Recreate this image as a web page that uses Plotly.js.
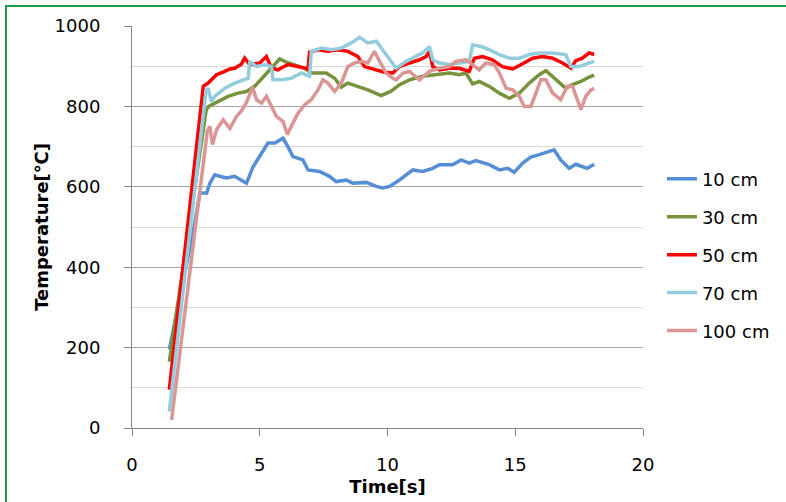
<!DOCTYPE html>
<html>
<head>
<meta charset="utf-8">
<script src="https://cdn.plot.ly/plotly-3.0.1.min.js"></script>
<style>
  html, body { margin: 0; padding: 0; background: #fff; }
  #wrap { position: relative; width: 786px; height: 502px; overflow: hidden; }
  #chart { width: 786px; height: 502px; }
  #frame { position: absolute; left: 5px; top: 5px; width: 800px; height: 520px;
           border-left: 2px solid #1f9b48; border-top: 2px solid #1f9b48; pointer-events: none; }
</style>
</head>
<body>
<div id="wrap"><div id="chart"></div><div id="frame"></div></div>
<script>
// ---- data (time in s, temperature in ℃) ----
const seriesNames = ["10 cm", "30 cm", "50 cm", "70 cm", "100 cm"];

const t10 = [1.46, 2.4, 2.66, 2.92, 3.05, 3.24, 3.5, 3.7, 4.02, 4.25, 4.48, 4.74, 5.0, 5.32, 5.59, 5.91, 6.1, 6.3, 6.69, 6.89, 7.34, 7.73, 7.99, 8.39, 8.64, 9.17, 9.56, 9.82, 10.08, 10.47, 10.99, 11.38, 11.77, 12.03, 12.55, 12.88, 13.2, 13.46, 13.98, 14.38, 14.7, 14.96, 15.29, 15.61, 15.94, 16.2, 16.52, 16.78, 17.11, 17.37, 17.82, 18.09];
const v10 = [195, 490, 585, 584, 609, 630, 625, 622, 626, 618, 609, 650, 675, 709, 709, 721, 700, 675, 667, 642, 638, 626, 613, 617, 609, 611, 601, 597, 601, 617, 642, 638, 646, 655, 655, 667, 659, 665, 655, 642, 646, 636, 659, 674, 680, 686, 692, 667, 646, 656, 646, 656];

const t30 = [1.46, 2.9, 3.0, 3.37, 3.76, 4.15, 4.48, 4.8, 5.2, 5.52, 5.78, 6.04, 6.37, 6.76, 7.02, 7.34, 7.6, 7.93, 8.19, 8.45, 8.84, 9.23, 9.75, 10.14, 10.47, 10.86, 11.38, 11.9, 12.42, 12.81, 13.07, 13.33, 13.59, 13.98, 14.38, 14.77, 15.16, 15.55, 15.94, 16.2, 16.59, 16.98, 17.24, 17.57, 17.89, 18.09];
const v30 = [165, 790, 800, 812, 825, 833, 837, 850, 879, 899, 918, 910, 904, 895, 883, 883, 883, 870, 848, 858, 850, 841, 827, 838, 854, 866, 875, 879, 883, 879, 883, 856, 862, 850, 833, 820, 833, 858, 879, 889, 866, 845, 854, 862, 873, 878];

const t50 = [1.46, 2.79, 2.98, 3.24, 3.31, 3.63, 3.83, 4.02, 4.28, 4.41, 4.61, 5.0, 5.26, 5.46, 5.72, 5.91, 6.11, 6.5, 6.89, 6.95, 7.28, 7.67, 8.06, 8.45, 8.84, 9.1, 9.49, 9.88, 10.21, 10.47, 10.86, 11.25, 11.51, 11.64, 11.77, 12.03, 12.42, 12.81, 13.2, 13.4, 13.72, 14.1, 14.5, 14.9, 15.29, 15.68, 16.07, 16.46, 16.85, 17.18, 17.37, 17.63, 17.89, 18.09];
const v50 = [95, 850, 858, 875, 879, 887, 893, 895, 905, 920, 904, 908, 924, 895, 891, 898, 904, 899, 893, 935, 941, 937, 941, 937, 924, 899, 891, 885, 883, 899, 908, 916, 924, 937, 899, 891, 895, 895, 887, 920, 924, 916, 899, 893, 906, 920, 924, 920, 908, 895, 914, 920, 933, 929];

const t70 = [1.46, 2.9, 2.98, 3.11, 3.24, 3.63, 4.02, 4.41, 4.55, 4.61, 4.87, 5.2, 5.46, 5.52, 5.85, 6.24, 6.63, 6.95, 7.02, 7.41, 7.8, 8.19, 8.58, 8.91, 9.23, 9.56, 9.88, 10.21, 10.34, 10.73, 11.12, 11.38, 11.64, 11.77, 12.03, 12.42, 12.81, 13.2, 13.33, 13.66, 13.98, 14.38, 14.77, 15.16, 15.55, 15.94, 16.46, 16.98, 17.18, 17.5, 17.89, 18.09];
const v70 = [41, 840, 845, 812, 825, 845, 858, 866, 870, 912, 899, 904, 899, 866, 866, 870, 883, 875, 937, 945, 941, 945, 958, 972, 958, 962, 933, 906, 895, 912, 924, 933, 949, 916, 908, 904, 908, 912, 953, 949, 941, 929, 920, 920, 929, 933, 933, 929, 899, 899, 908, 912];

const t100 = [1.55, 2.95, 3.05, 3.15, 3.31, 3.57, 3.83, 4.09, 4.3, 4.48, 4.72, 4.87, 5.07, 5.26, 5.46, 5.65, 5.91, 6.08, 6.3, 6.5, 6.76, 7.02, 7.28, 7.47, 7.67, 7.93, 8.19, 8.45, 8.71, 8.97, 9.23, 9.49, 9.69, 9.95, 10.21, 10.34, 10.6, 10.86, 11.25, 11.64, 12.03, 12.42, 12.68, 13.07, 13.33, 13.59, 13.85, 14.18, 14.38, 14.64, 14.9, 15.16, 15.35, 15.61, 15.81, 16.0, 16.2, 16.46, 16.78, 17.04, 17.24, 17.43, 17.57, 17.76, 17.96, 18.09];
const v100 = [20, 740, 750, 705, 742, 767, 745, 775, 790, 810, 848, 817, 808, 825, 800, 775, 763, 730, 759, 783, 804, 817, 841, 866, 858, 837, 858, 899, 908, 912, 908, 937, 912, 883, 870, 866, 883, 887, 866, 887, 895, 899, 912, 916, 904, 891, 908, 904, 883, 845, 841, 825, 800, 800, 833, 866, 866, 833, 817, 850, 850, 817, 792, 825, 841, 845];

const seriesT = [t10, t30, t50, t70, t100];
const seriesV = [v10, v30, v50, v70, v100];
const seriesColors = ["#558ed5", "#77933c", "#ff0000", "#93cddd", "#d99694"];

const xTickVals = [0, 5, 10, 15, 20];
const yTickVals = [0, 200, 400, 600, 800, 1000];

// ---- build traces ----
const FONT = "DejaVu Sans, Noto Sans, sans-serif";
const traces = seriesNames.map((name, i) => ({
  type: "scatter",
  mode: "lines",
  name: name,
  x: seriesT[i],
  y: seriesV[i],
  legendgroup: "g" + i,
  line: { color: seriesColors[i], width: 3.5 }
}));

const layout = {
  width: 786,
  height: 502,
  margin: { l: 132, r: 142, t: 26, b: 74, pad: 0 },
  paper_bgcolor: "#ffffff",
  plot_bgcolor: "#ffffff",
  showlegend: true,
  font: { family: FONT, size: 18, color: "#000000" },
  xaxis: {
    range: [0, 20],
    tickvals: xTickVals,
    ticktext: xTickVals.map(String),
    showgrid: false,
    zeroline: false,
    showline: true,
    linecolor: "#868686",
    linewidth: 1,
    ticks: "outside",
    ticklen: 7,
    tickcolor: "#868686",
    ticklabelstandoff: 13,
    tickfont: { family: FONT, size: 18, color: "#000000" },
    title: { text: "<b>Time[s]</b>", font: { family: FONT, size: 18, color: "#000000" }, standoff: 6 }
  },
  yaxis: {
    range: [0, 1000],
    tickvals: yTickVals,
    ticktext: yTickVals.map(String),
    showgrid: true,
    gridcolor: "#a6a6a6",
    gridwidth: 1,
    zeroline: false,
    showline: true,
    linecolor: "#868686",
    linewidth: 1,
    ticks: "outside",
    ticklen: 7,
    tickcolor: "#868686",
    ticklabelstandoff: 20,
    tickfont: { family: FONT, size: 18, color: "#000000" },
    minor: { dtick: 100, showgrid: true, gridcolor: "#d9d9d9", gridwidth: 1, ticks: "" },
    title: { text: "<b>Temperature[℃]</b>", font: { family: FONT, size: 18, color: "#000000" }, standoff: 1 }
  },
  legend: {
    x: 1.035,
    xanchor: "left",
    y: 0.665,
    yanchor: "top",
    traceorder: "grouped",
    tracegroupgap: 11.5,
    font: { family: FONT, size: 18, color: "#000000" },
    bgcolor: "rgba(0,0,0,0)",
    borderwidth: 0
  }
};

Plotly.newPlot("chart", traces, layout, { displayModeBar: false, staticPlot: true });
</script>
</body>
</html>
